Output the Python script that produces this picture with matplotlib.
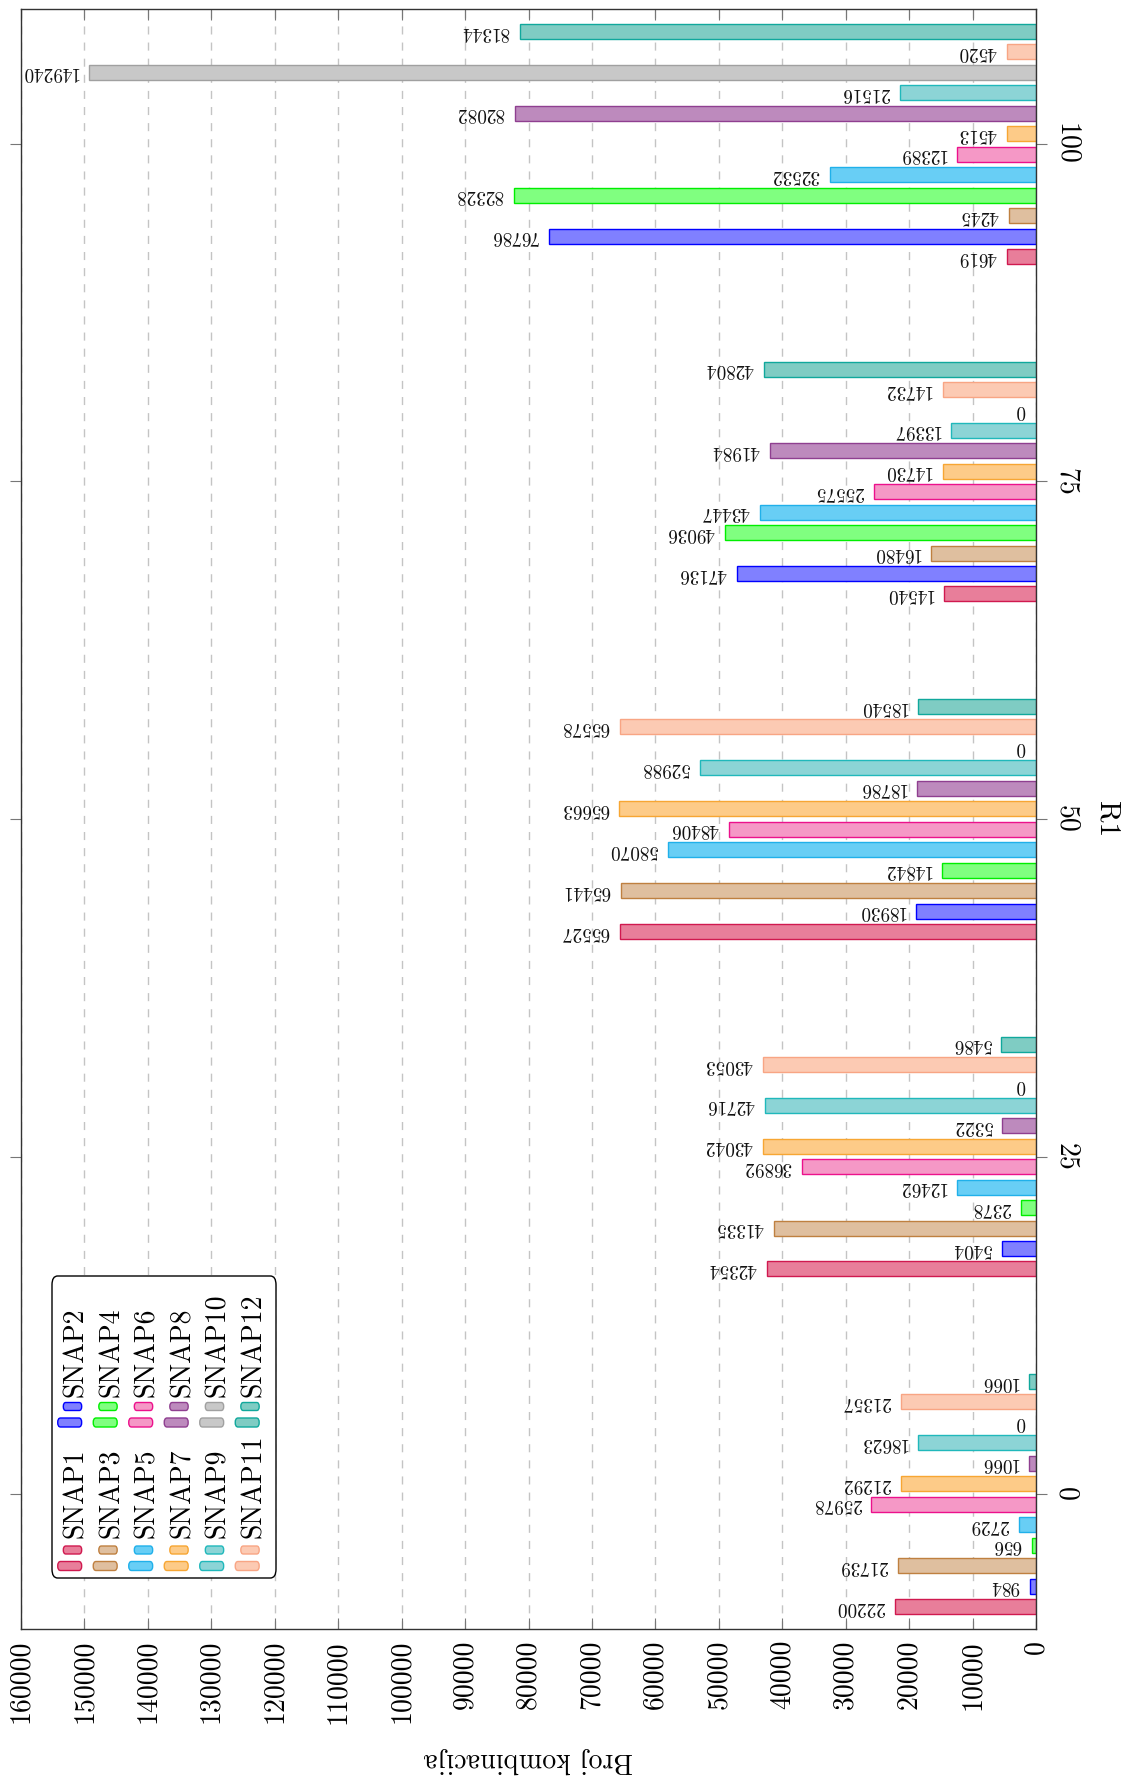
import numpy as np
import matplotlib
matplotlib.use('Agg')
import matplotlib.pyplot as plt
from matplotlib.patches import FancyBboxPatch
from matplotlib.ticker import FuncFormatter

plt.rcParams['font.family'] = 'cmr10'

# R1 groups and number of combinations per SNAP series
r1 = [0, 25, 50, 75, 100]
snap1 = [22200, 42354, 65527, 14540, 4619]
snap2 = [984, 5404, 18930, 47136, 76786]
snap3 = [21739, 41335, 65441, 16480, 4245]
snap4 = [656, 2378, 14842, 49036, 82328]
snap5 = [2729, 12462, 58070, 43447, 32532]
snap6 = [25978, 36892, 48406, 25575, 12389]
snap7 = [21292, 43042, 65663, 14730, 4513]
snap8 = [1066, 5322, 18786, 41984, 82082]
snap9 = [18623, 42716, 52988, 13397, 21516]
snap10 = [0, 0, 0, 0, 149240]
snap11 = [21357, 43053, 65578, 14732, 4520]
snap12 = [1066, 5486, 18540, 42804, 81344]

names = ['SNAP%d' % (i + 1) for i in range(12)]
series = [snap1, snap2, snap3, snap4, snap5, snap6,
          snap7, snap8, snap9, snap10, snap11, snap12]

fills = ['#e87e9a', '#8080ff', '#dfbf9f', '#80ff80', '#68cef5', '#f598c6',
         '#fdcb88', '#bd8abd', '#8cd4d6', '#c8c8c8', '#fccab3', '#7fccc3']
edges = ['#d0194f', '#0000ff', '#bf8040', '#00ee00', '#20b0ea', '#ec118c',
         '#f7a633', '#8f3f90', '#20b8bb', '#a0a0a0', '#f8a584', '#10a89c']

W, H = 1125, 1776
fig = plt.figure(figsize=(W / 100, H / 100), dpi=100)
ax = fig.add_axes([21 / W, 1 - 1629 / H, (1036 - 21) / W, (1629 - 9) / H])

step = 1.515
barh = 1.11
pos = np.array(r1, dtype=float)
for k in range(12):
    y = pos + (k - 5.5) * step
    ax.barh(y, series[k], height=barh, color=fills[k], edgecolor=edges[k],
            linewidth=1.0, zorder=2)
    for yy, v in zip(y, series[k]):
        ax.annotate(str(v), (v, yy), xytext=(-7.7, 0), textcoords='offset points',
                    ha='right', va='center', rotation=180, fontsize=13.8,
                    color='#111111', zorder=3)

ax.set_xlim(160000, 0)
ax.set_ylim(-10, 110)
ax.set_xticks(np.arange(0, 160001, 10000))
ax.xaxis.set_major_formatter(FuncFormatter(lambda v, p: '%d' % int(v)))
ax.set_yticks(r1)
ax.yaxis.set_major_formatter(FuncFormatter(lambda v, p: '%d' % int(v)))

ax.grid(axis='x', color='#c4c4c4', linestyle=(0, (5.8, 5.8)), linewidth=1.0)
ax.set_axisbelow(True)

ax.tick_params(axis='x', direction='in', top=True, bottom=True, length=8,
               width=0.8, color='#777777', labelsize=20, labelrotation=90, pad=8)
ax.tick_params(axis='y', direction='out', left=True, right=True, labelleft=False,
               labelright=True, length=8, width=0.8, color='#777777',
               labelsize=20, labelrotation=270, pad=4)
for lbl in ax.get_yticklabels(which='both'):
    lbl.set_verticalalignment('center')
for t in ax.yaxis.get_major_ticks():
    t.label2.set_verticalalignment('center')
for s in ax.spines.values():
    s.set_color('#333333')
    s.set_linewidth(1.0)

ax.set_xlabel('Broj kombinacija', fontsize=20, rotation=180, va='center')
ax.xaxis.set_label_coords(0.5, (1629 - 1760) / 1620)


# everything below is placed in figure pixels, rotated like the chart
def fx(x):
    return x / W


def fy(y):
    return 1 - y / H


fig.text(fx(1107), fy(819), 'R1', rotation=270, ha='center', va='center',
         fontsize=21)

box = FancyBboxPatch((fx(52), fy(1578)), fx(276) - fx(52), fy(1276) - fy(1578),
                     boxstyle='round,pad=0,rounding_size=0.005',
                     transform=fig.transFigure, facecolor='white',
                     edgecolor='black', linewidth=1.0, zorder=5)
fig.patches.append(box)


def pill(x0, x1, yc, h, k):
    p = FancyBboxPatch((fx(x0), fy(yc + h / 2)), fx(x1) - fx(x0), h / H,
                       boxstyle='round,pad=0,rounding_size=%f' % (h / 2 / H),
                       transform=fig.transFigure, facecolor=fills[k],
                       edgecolor=edges[k], linewidth=1.0, zorder=6)
    fig.patches.append(p)


for k in range(12):
    col = k // 2
    dx = col * 35.5
    if k % 2 == 0:
        big_y, small_y, text_y = 1566, 1550, 1538
    else:
        big_y, small_y, text_y = 1422.5, 1406.5, 1397
    pill(57.7 + dx, 81.7 + dx, big_y, 9, k)
    pill(63.3 + dx, 81.7 + dx, small_y, 8, k)
    fig.text(fx(83.3 + dx), fy(text_y), names[k], rotation=90,
             rotation_mode='anchor', ha='left', va='baseline',
             fontsize=20, zorder=7)

fig.savefig('out.png', dpi=100)
